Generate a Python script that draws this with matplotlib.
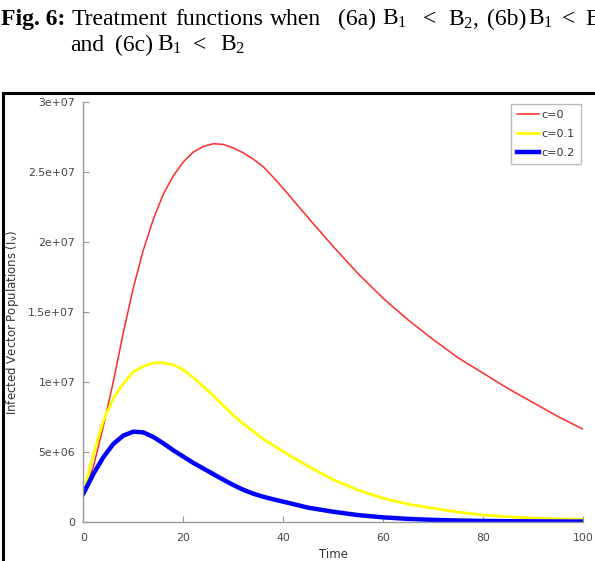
import numpy as np
import matplotlib
matplotlib.use('Agg')
import matplotlib.pyplot as plt
from matplotlib.patches import Rectangle

plt.rcParams['mathtext.fontset'] = 'custom'
plt.rcParams['mathtext.rm'] = 'Liberation Serif'
plt.rcParams['mathtext.it'] = 'Liberation Serif:italic'
plt.rcParams['mathtext.sf'] = 'DejaVu Sans'

# time points
t = [0, 2, 4, 6, 8, 10, 12, 14, 16, 18, 20, 22, 24, 26, 28, 30, 32, 34, 36, 38, 40,
     45, 50, 55, 60, 65, 70, 75, 80, 85, 90, 95, 100]

# c = 0
iv_c0 = [2.0e6, 3.9e6, 6.8e6, 1.0e7, 1.35e7, 1.67e7, 1.94e7, 2.16e7, 2.34e7, 2.47e7,
         2.57e7, 2.64e7, 2.68e7, 2.70e7, 2.695e7, 2.67e7, 2.635e7, 2.59e7, 2.535e7,
         2.46e7, 2.38e7,
         2.17e7, 1.965e7, 1.77e7, 1.595e7, 1.44e7, 1.30e7, 1.17e7, 1.06e7, 9.5e6,
         8.5e6, 7.5e6, 6.6e6]
# c = 0.1
iv_c01 = [2.0e6, 4.8e6, 7.2e6, 8.8e6, 9.85e6, 1.07e7, 1.11e7, 1.134e7, 1.135e7, 1.12e7,
          1.085e7, 1.03e7, 9.65e6, 9.0e6, 8.3e6, 7.6e6, 7.0e6, 6.45e6, 5.9e6,
          5.45e6, 5.0e6,
          3.95e6, 3.0e6, 2.25e6, 1.67e6, 1.25e6, 9.6e5, 6.8e5, 4.8e5, 3.5e5,
          2.6e5, 2.0e5, 1.6e5]
# c = 0.2
iv_c02 = [2.0e6, 3.4e6, 4.6e6, 5.55e6, 6.15e6, 6.43e6, 6.38e6, 6.05e6, 5.6e6, 5.1e6,
          4.65e6, 4.2e6, 3.8e6, 3.4e6, 3.0e6, 2.62e6, 2.28e6, 2.0e6, 1.78e6,
          1.6e6, 1.43e6,
          1.0e6, 7.1e5, 4.7e5, 3.1e5, 2.0e5, 1.3e5, 8.5e4, 5.5e4, 3.5e4,
          2.3e4, 1.5e4, 1.0e4]

labels = ['c=0', 'c=0.1', 'c=0.2']
yticks = [0, 5e6, 1e7, 1.5e7, 2e7, 2.5e7, 3e7]
ytick_labels = ['0', '5e+06', '1e+07', '1.5e+07', '2e+07', '2.5e+07', '3e+07']
xticks = [0, 20, 40, 60, 80, 100]

W, H = 595, 561
fig = plt.figure(figsize=(W / 100, H / 100), dpi=100)

# caption above the plot, word by word (justified line in the original)
serif = 'Liberation Serif'
B1 = r'$\mathrm{B}_1$'
B2 = r'$\mathrm{B}_2$'
line1 = [('Fig. 6:', 1), ('Treatment', 72), ('functions', 175), ('when', 270),
         ('(6a)', 338), (B1, 382), ('<', 423), (B2 + ',', 448), ('(6b)', 487),
         (B1, 528), ('<', 562), ('B', 585)]
line2 = [('and', 70), ('(6c)', 115), (B1, 157), ('<', 193), (B2, 220)]
for i, (s, x) in enumerate(line1):
    fig.text(x / W, 1 - 25 / H, s, fontsize=17, family=serif,
             fontweight='bold' if i == 0 else 'normal')
for s, x in line2:
    fig.text(x / W, 1 - 51 / H, s, fontsize=17, family=serif)

# black frame around the plot (runs off the right and bottom)
fig.patches.append(Rectangle((3 / W, -0.05), 1.0, 1 - 93 / H + 0.05,
                             transform=fig.transFigure, fill=False,
                             edgecolor='black', linewidth=2.2))

ax = fig.add_axes([83.3 / W, 1 - 521.7 / H, 500 / W, 420 / H])

ax.plot(t, iv_c0, color='#ff2a2a', linewidth=1.1, label=labels[0])
ax.plot(t, iv_c01, color='#ffff00', linewidth=2.0, label=labels[1])
ax.plot(t, iv_c02, color='#0000ff', linewidth=3.2, label=labels[2])

ax.set_xlim(0, 100)
ax.set_ylim(0, 3e7)
ax.set_xticks(xticks)
ax.set_yticks(yticks)
ax.set_yticklabels(ytick_labels)

for s in ['top', 'right']:
    ax.spines[s].set_visible(False)
for s in ['left', 'bottom']:
    ax.spines[s].set_color('#999999')
    ax.spines[s].set_linewidth(1.0)
ax.tick_params(direction='in', length=4, color='#999999', labelsize=7.8,
               labelcolor='#444444')
ax.tick_params(axis='x', pad=8)
ax.tick_params(axis='y', pad=6)

ax.set_xlabel('Time', fontsize=8.5, color='#333333')
ax.xaxis.set_label_coords(0.5, -0.062)
ax.set_ylabel(r'Infected Vector Populations (I$_\mathsf{v}$)', fontsize=8.5, color='#333333')
ax.yaxis.set_label_coords(-0.125, 0.475)

leg = ax.legend(loc='upper right', fontsize=8, frameon=True, fancybox=False,
                handlelength=2.0, handletextpad=0.25, borderpad=0.55,
                labelspacing=0.82, borderaxespad=0.2, bbox_to_anchor=(1.0, 1.0))
leg.get_frame().set_edgecolor('#aaaaaa')
leg.get_frame().set_linewidth(1.0)
for txt in leg.get_texts():
    txt.set_color('#333333')

fig.savefig('out.png', dpi=100)
